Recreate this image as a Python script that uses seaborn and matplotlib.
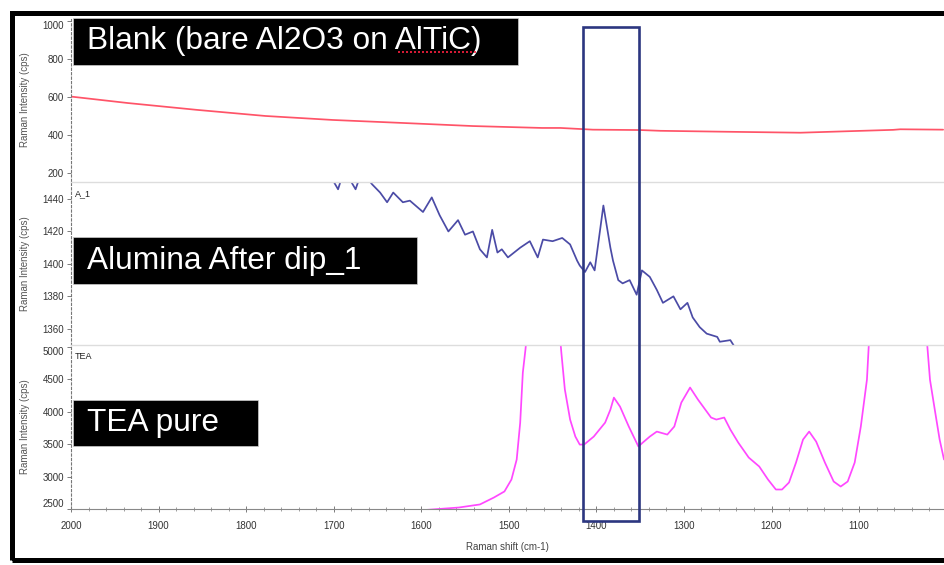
import matplotlib
matplotlib.use("Agg")
import matplotlib.pyplot as plt
import matplotlib.transforms as mtransforms
from matplotlib.patches import Rectangle
from matplotlib.lines import Line2D
import pandas as pd
import seaborn as sns

# Blank (bare Al2O3 on AlTiC) - red trace
blank_shift = [2000, 1935, 1856, 1778, 1701, 1620, 1541, 1462, 1441, 1404, 1350,
               1327, 1251, 1167, 1118, 1061, 1053, 1004]
blank_int = [602, 568, 532, 500, 479, 463, 447, 437, 437, 428, 426,
             422, 417, 412, 419, 427, 430, 428]

# Alumina after dip_1 (A_1) - blue trace
dip_shift = [1712, 1695, 1688, 1675, 1668, 1656, 1647, 1639, 1632, 1621, 1613, 1598,
             1588, 1579, 1569, 1558, 1550, 1541, 1533, 1525, 1519, 1513, 1508, 1501,
             1487, 1476, 1467, 1461, 1450, 1439, 1430, 1422, 1419, 1413, 1407, 1402,
             1392, 1384, 1381, 1375, 1370, 1362, 1354, 1348, 1339, 1331, 1324, 1312,
             1304, 1296, 1290, 1282, 1274, 1262, 1259, 1247, 1240, 1225]
dip_int = [1462, 1446, 1458, 1446, 1457, 1449, 1444, 1438, 1444, 1438, 1439, 1432,
           1441, 1430, 1420, 1427, 1418, 1420, 1409, 1404, 1421, 1407, 1409, 1404,
           1410, 1414, 1404, 1415, 1414, 1416, 1412, 1402, 1399, 1395, 1401, 1396,
           1436, 1410, 1402, 1390, 1388, 1390, 1381, 1396, 1392, 1384, 1376, 1380,
           1372, 1376, 1367, 1361, 1357, 1355, 1352, 1353, 1347, 1340]

# TEA pure - magenta trace
tea_shift = [1600, 1557, 1533, 1517, 1505, 1497, 1491, 1487, 1484, 1481, 1470, 1460,
             1450, 1440, 1436, 1430, 1424, 1419, 1414, 1403, 1390, 1384, 1380, 1373,
             1363, 1352, 1347, 1339, 1331, 1319, 1311, 1303, 1293, 1284, 1269, 1263,
             1254, 1247, 1238, 1226, 1214, 1204, 1195, 1188, 1180, 1172, 1164, 1157,
             1149, 1139, 1129, 1121, 1113, 1105, 1098, 1091, 1089, 1075, 1055, 1035,
             1022, 1019, 1013, 1008, 1003]
tea_int = [2480, 2523, 2570, 2677, 2770, 2954, 3262, 3830, 4600, 4954, 6500, 8000,
           6500, 4908, 4340, 3877, 3615, 3492, 3492, 3615, 3830, 4030, 4215, 4077,
           3770, 3462, 3523, 3615, 3692, 3646, 3770, 4138, 4370, 4185, 3908, 3877,
           3908, 3723, 3523, 3292, 3154, 2954, 2800, 2800, 2908, 3215, 3569, 3692,
           3538, 3215, 2923, 2846, 2923, 3215, 3770, 4492, 5000, 7000, 9000, 7000,
           5000, 4490, 3985, 3570, 3262]

x_ticks = [2000, 1900, 1800, 1700, 1600, 1500, 1400, 1300, 1200, 1100]
box_lo, box_hi = 1351, 1415

sns.set_style("white")
plt.rcParams['font.family'] = ['Liberation Sans', 'DejaVu Sans']

W, H = 944, 565
fig = plt.figure(figsize=(W / 100, H / 100), dpi=100)


def px_axes(top, bottom):
    return fig.add_axes([71 / W, 1 - bottom / H, (W - 71) / W, (bottom - top) / H])


ax1 = px_axes(19, 181)
ax2 = px_axes(182, 345)
ax3 = px_axes(345, 509)

panels = [
    (ax1, blank_shift, blank_int, '#ff5468', (158, 1010), [200, 400, 600, 800, 1000]),
    (ax2, dip_shift, dip_int, '#4b4ba6', (1350, 1450.5), [1360, 1380, 1400, 1420, 1440]),
    (ax3, tea_shift, tea_int, '#ff48ff', (2500, 5025), [2500, 3000, 3500, 4000, 4500, 5000]),
]

for ax, xs, ys, col, ylim, yt in panels:
    df = pd.DataFrame({'shift': xs, 'intensity': ys})
    sns.lineplot(data=df, x='shift', y='intensity', ax=ax, color=col, lw=1.25, sort=False)
    ax.set_xlim(2000, 1003)
    ax.set_ylim(*ylim)
    ax.set_yticks(yt)
    ax.set_xticks(x_ticks)
    ax.set_xticks(range(1020, 2000, 20), minor=True)
    ax.tick_params(axis='y', direction='out', length=3, width=0.6, colors='#666666',
                   labelsize=7, labelcolor='#333333', pad=2, left=True)
    ax.set_ylabel("Raman Intensity (cps)", fontsize=7, color='#555555')
    ax.yaxis.set_label_coords(-0.047, 0.5)
    ax.set_xlabel("")
    for s in ['top', 'right', 'bottom']:
        ax.spines[s].set_visible(False)
    ax.spines['left'].set_linestyle((0, (2, 2)))
    ax.spines['left'].set_color('#777777')
    ax.spines['left'].set_linewidth(0.8)

for ax in (ax1, ax2):
    ax.tick_params(axis='x', which='both', bottom=False, labelbottom=False)

for ax in (ax2, ax3):
    ax.spines['top'].set_visible(True)
    ax.spines['top'].set_color('#dddddd')
    ax.spines['top'].set_linewidth(1.0)

ax3.spines['bottom'].set_visible(True)
ax3.spines['bottom'].set_color('#888888')
ax3.spines['bottom'].set_linewidth(0.8)
ax3.tick_params(axis='x', which='major', direction='inout', length=5, width=0.6,
                colors='#666666', labelsize=7, labelcolor='#333333', pad=6, bottom=True)
ax3.tick_params(axis='x', which='minor', direction='inout', length=2.5, width=0.5,
                colors='#777777', bottom=True)
ax3.set_xlabel("Raman shift (cm-1)", fontsize=7, color='#444444')
ax3.xaxis.set_label_coords(0.5, -0.2)
ax3.xaxis.label.set_va('top')

# edge tick labels sit inside the panel, as in the instrument software
ax1.get_yticklabels()[-1].set_va('top')
ax3.get_yticklabels()[-1].set_va('top')
ax3.get_yticklabels()[0].set_va('bottom')

ax2.text(0.004, 0.93, "A_1", transform=ax2.transAxes, fontsize=6.5, color='#222222',
         va='center')
ax3.text(0.004, 0.93, "TEA", transform=ax3.transAxes, fontsize=6.5, color='#222222',
         va='center')

# black caption boxes
def caption(x0, x1, y0, y1, label):
    fig.add_artist(Rectangle((x0 / W, 1 - y1 / H), (x1 - x0) / W, (y1 - y0) / H,
                             transform=fig.transFigure, facecolor='black',
                             edgecolor='#cccccc', lw=0.5, zorder=5))
    fig.text((x0 + 14) / W, 1 - (y0 + y1) / 2 / H, label, color='white', fontsize=22.8,
             va='center', ha='left', zorder=6)


caption(73, 518, 18, 65, "Blank (bare Al2O3 on AlTiC)")
caption(73, 417, 237, 284, "Alumina After dip_1")
caption(73, 258, 400, 446, "TEA pure")
# spell-check squiggle under "AlTiC"
fig.add_artist(Line2D([398 / W, 478 / W], [1 - 52 / H, 1 - 52 / H], transform=fig.transFigure,
                      color='#ff2040', lw=1.2, ls=(0, (1.2, 1.2)), zorder=7))

# highlight rectangle across all panels
blend = mtransforms.blended_transform_factory(ax3.transData, fig.transFigure)
fig.add_artist(Rectangle((box_lo, 1 - 521 / H), box_hi - box_lo, (521 - 27) / H,
                         transform=blend, fill=False, edgecolor='#2c3680', lw=1.9,
                         zorder=8))

# outer black frame of the screenshot
fig.add_artist(Rectangle((11.5 / W, 1 - 560 / H), 1.2, (560 - 12.5) / H,
                         transform=fig.transFigure, fill=False, edgecolor='black',
                         lw=3.6, zorder=9, clip_on=False))

fig.savefig("out.png", dpi=100)
